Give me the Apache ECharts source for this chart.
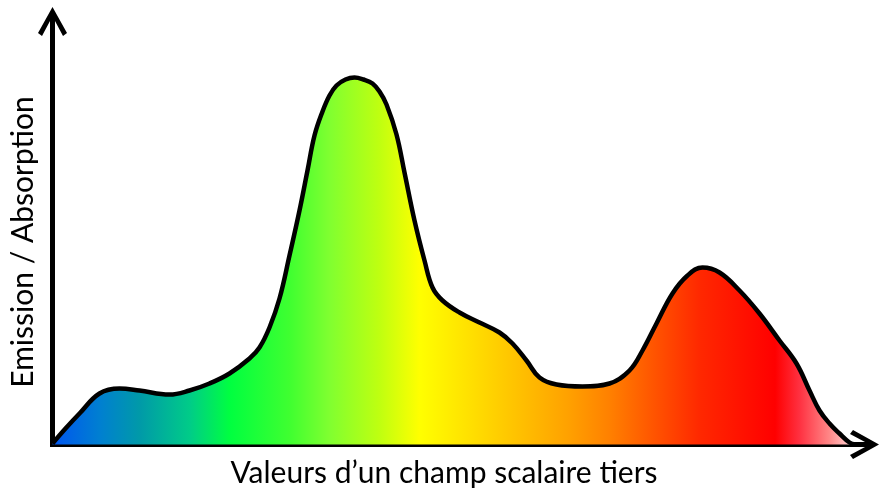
<!DOCTYPE html>
<html>
<head>
<meta charset="utf-8">
<script src="https://cdn.jsdelivr.net/npm/echarts@6/dist/echarts.min.js"></script>
<style>
html,body{margin:0;padding:0;background:#fff;}
#chart{width:880px;height:489px;}
</style>
</head>
<body>
<div id="chart"></div>
<script>
// Scalar field values (x) and emission/absorption intensity (y), arbitrary units
const scalarValues = [0, 13, 27, 47, 67, 87, 117, 137, 157, 177, 197, 207, 217, 227, 237, 247, 255, 262, 270, 277, 284, 293, 302, 311, 320, 327, 334, 344, 352, 362, 372, 380, 390, 407, 427, 447, 460, 474, 487, 504, 530, 557, 577, 590, 604, 620, 635, 650, 667, 687, 707, 727, 744, 757, 767, 777, 787, 797, 803];
const intensity    = [1, 16, 31, 51, 56, 54, 50, 54, 61, 71, 86, 97, 117, 146, 189, 234, 274, 309, 333, 349, 359, 365, 367, 365, 361, 353, 340, 310, 272, 224, 184, 157, 144, 132, 122, 112, 101, 84, 67, 60, 58, 61, 74, 94, 121, 151, 169, 177, 172, 154, 131, 104, 81, 54, 34, 21, 11, 2, 0];
const xAxisTitle = 'Valeurs d\u2019un champ scalaire tiers';
const yAxisTitle = 'Emission / Absorption';
const xMax = 812;
const yMax = 423;

const gradientStops = [
  [0.000, '#0055f0'],
  [0.060, '#0080d0'],
  [0.109, '#009aa8'],
  [0.171, '#00cc88'],
  [0.221, '#00ff40'],
  [0.296, '#40ff30'],
  [0.345, '#80ff30'],
  [0.408, '#c0ff10'],
  [0.457, '#ffff00'],
  [0.520, '#ffe000'],
  [0.582, '#ffc000'],
  [0.644, '#ffa000'],
  [0.694, '#ff8000'],
  [0.744, '#ff5800'],
  [0.806, '#ff2800'],
  [0.900, '#ff0000'],
  [0.930, '#ff3040'],
  [0.968, '#ff8888'],
  [1.000, '#ffe0e0']
];

const chart = echarts.init(document.getElementById('chart'), null, {renderer: 'canvas'});
const arrowPath = 'path://M14.5 0 L29 26 L25 29 L17 14 L17 29 L12 29 L12 14 L4 29 L0 26 Z';
const fontFamily = 'Lato, "Open Sans", sans-serif';

const option = {
  animation: false,
  backgroundColor: '#ffffff',
  grid: {left: 52.5, right: 15.5, top: 21.5, bottom: 44.5, containLabel: false, outerBoundsMode: 'none'},
  xAxis: {
    type: 'value', min: 0, max: xMax,
    name: xAxisTitle, nameLocation: 'middle', nameGap: 14,
    nameTextStyle: {fontFamily: fontFamily, fontSize: 30, color: '#000', padding: [0, 29, 0, 0]},
    axisLine: {show: true, onZero: false, symbol: ['none', arrowPath], symbolSize: [29, 29],
      lineStyle: {color: '#000', width: 5, cap: 'square'}},
    axisTick: {show: false}, axisLabel: {show: false}, splitLine: {show: false}
  },
  yAxis: {
    type: 'value', min: 0, max: yMax,
    name: yAxisTitle, nameLocation: 'middle', nameGap: 14, nameRotate: 90,
    nameTextStyle: {fontFamily: fontFamily, fontSize: 30, color: '#000', padding: [0, 18, 0, 0]},
    axisLine: {show: true, onZero: false, symbol: ['none', arrowPath], symbolSize: [29, 29],
      lineStyle: {color: '#000', width: 5, cap: 'square'}},
    axisTick: {show: false}, axisLabel: {show: false}, splitLine: {show: false}
  },
  series: [{
    type: 'line',
    data: scalarValues.map((x, i) => [x, intensity[i]]),
    smooth: 0.4,
    showSymbol: false,
    symbol: 'none',
    lineStyle: {color: '#000', width: 4.5},
    areaStyle: {
      opacity: 1,
      color: new echarts.graphic.LinearGradient(0, 0, 1, 0,
        gradientStops.map(s => ({offset: s[0], color: s[1]})))
    },
    z: 1
  }]
};
chart.setOption(option);
</script>
</body>
</html>
